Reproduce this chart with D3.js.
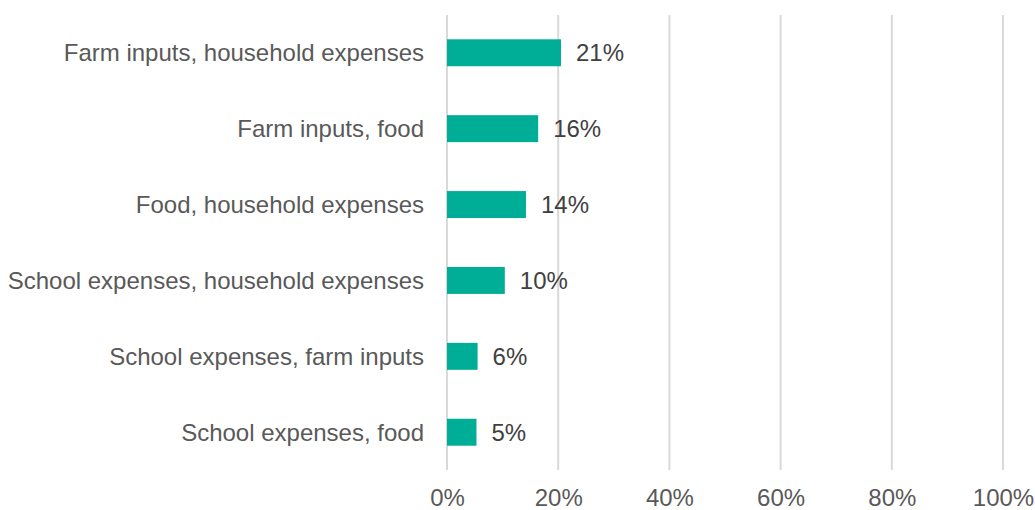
<!DOCTYPE html>
<html>
<head>
<meta charset="utf-8">
<script src="https://cdn.jsdelivr.net/npm/d3@7"></script>
<style>
  html, body { margin: 0; padding: 0; background: #ffffff; }
  svg { display: block; font-family: "Liberation Sans", Arial, sans-serif; }
</style>
</head>
<body>
<svg id="chart" width="1035" height="510"></svg>
<script>
// Share of respondents by combination of spending uses
const categories = [
  "Farm inputs, household expenses",
  "Farm inputs, food",
  "Food, household expenses",
  "School expenses, household expenses",
  "School expenses, farm inputs",
  "School expenses, food"
];
const shares = [20.5, 16.4, 14.2, 10.4, 5.5, 5.3];
const tickValues = [0, 20, 40, 60, 80, 100];

const svg = d3.select("#chart");
const margin = { left: 447, right: 32, top: 15, bottom: 40 };
const width = 1035, height = 510;
const fontSize = 24;

const x = d3.scaleLinear().domain([0, 100]).range([margin.left, width - margin.right]);
const y = d3.scaleBand().domain(categories).range([margin.top, height - margin.bottom]).paddingInner(0.645).paddingOuter(0.32);

// vertical gridlines
svg.append("g")
  .selectAll("line")
  .data(tickValues)
  .join("line")
  .attr("x1", d => x(d)).attr("x2", d => x(d))
  .attr("y1", margin.top).attr("y2", height - margin.bottom)
  .attr("stroke", "#d9d9d9").attr("stroke-width", 2);

// x axis tick labels
const xAxis = d3.axisBottom(x).tickValues(tickValues).tickFormat(d => d + "%").tickSize(0).tickPadding(0);
const gx = svg.append("g").attr("transform", `translate(0, ${height - margin.bottom})`).call(xAxis);
gx.select(".domain").remove();
gx.selectAll("text")
  .attr("dy", null)
  .attr("y", 36)
  .attr("font-size", fontSize)
  .attr("font-family", "Liberation Sans, Arial, sans-serif")
  .attr("fill", "#595959");

// category labels
const yAxis = d3.axisLeft(y).tickSize(0).tickPadding(0);
const gy = svg.append("g").attr("transform", `translate(${margin.left - 23}, 0)`).call(yAxis);
gy.select(".domain").remove();
gy.selectAll("text")
  .attr("font-size", fontSize)
  .attr("font-family", "Liberation Sans, Arial, sans-serif")
  .attr("fill", "#595959")
  .attr("dy", "0.36em");

// bars
svg.append("g")
  .selectAll("rect")
  .data(categories)
  .join("rect")
  .attr("x", x(0))
  .attr("y", d => y(d))
  .attr("width", (d, i) => x(shares[i]) - x(0))
  .attr("height", y.bandwidth())
  .attr("fill", "#00ae97");

// value labels
svg.append("g")
  .selectAll("text")
  .data(categories)
  .join("text")
  .attr("x", (d, i) => x(shares[i]) + 15)
  .attr("y", d => y(d) + y.bandwidth() / 2)
  .attr("dy", "0.36em")
  .attr("font-size", fontSize)
  .attr("fill", "#404040")
  .text((d, i) => Math.round(shares[i]) + "%");
</script>
</body>
</html>
